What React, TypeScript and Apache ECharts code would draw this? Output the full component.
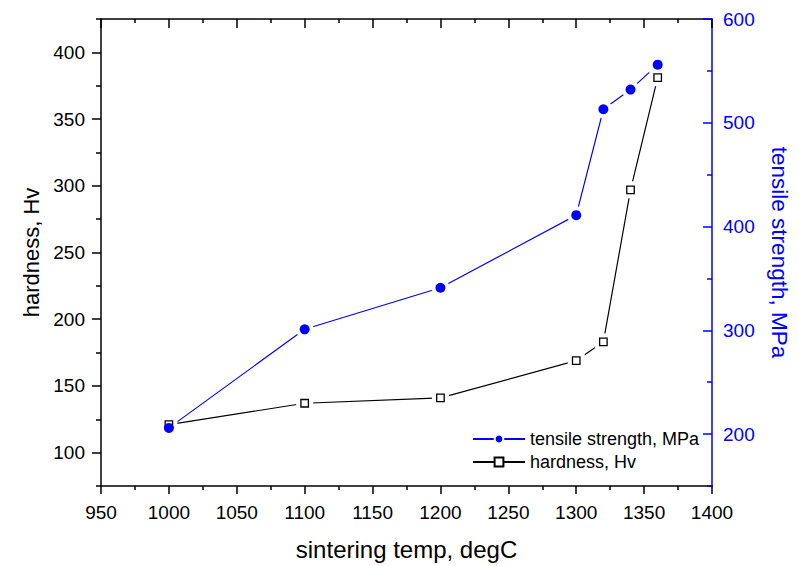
import React, { useEffect, useRef } from "react";
import * as echarts from "echarts";

const temps = [1000, 1100, 1200, 1300, 1320, 1340, 1360];
const hardness = [121, 137, 141, 169, 183, 297, 381];
const tensile = [206, 301, 341, 411, 513, 532, 556];

const xTicks = [950, 1000, 1050, 1100, 1150, 1200, 1250, 1300, 1350, 1400];
const leftMajor = [100, 150, 200, 250, 300, 350, 400];
const leftMinor = [75, 125, 175, 225, 275, 325, 375, 425];
const rightMajor = [200, 300, 400, 500, 600];
const rightMinor = [150, 250, 350, 450, 550];

const FONT = "'Liberation Sans', Arial, sans-serif";
const BLUE = "#0000ff";

export default function App() {
  const ref = useRef<HTMLDivElement>(null);
  useEffect(() => {
    document.body.style.margin = "0";
    const chart = echarts.init(ref.current!, null, { renderer: "svg" });
    const hData = temps.map((t, i) => [t, hardness[i]]);
    const tData = temps.map((t, i) => [t, tensile[i]]);
    const tickStyle = (c: string) => ({ color: c, width: 1.5 });
    const plain = (v: number) => String(v);
    chart.setOption({
      animation: false,
      backgroundColor: "#fff",
      grid: { left: 101, right: 77, top: 19, bottom: 73 },
      legend: {
        orient: "vertical",
        left: 472,
        top: 430,
        padding: 0,
        itemWidth: 52,
        itemHeight: 11,
        itemGap: 5,
        data: ["tensile strength, MPa", "hardness, Hv"],
        textStyle: { fontSize: 18, color: "#000", fontFamily: FONT },
      },
      xAxis: [
        {
          type: "value",
          position: "bottom",
          min: xTicks[0],
          max: xTicks[xTicks.length - 1],
          interval: 50,
          name: "sintering temp, degC",
          nameLocation: "middle",
          nameGap: 51,
          nameTextStyle: { fontSize: 24, color: "#000", fontFamily: FONT },
          axisLine: { lineStyle: tickStyle("#000") },
          axisTick: { inside: false, length: 8, lineStyle: tickStyle("#000") },
          minorTick: { show: true, splitNumber: 2, length: 4, lineStyle: tickStyle("#000") },
          splitLine: { show: false },
          axisLabel: { fontSize: 19, color: "#000", margin: 17, fontFamily: FONT, formatter: plain },
        },
        {
          type: "value",
          position: "top",
          min: xTicks[0],
          max: xTicks[xTicks.length - 1],
          interval: 50,
          axisLine: { lineStyle: tickStyle("#000") },
          axisTick: { inside: true, length: 9, lineStyle: tickStyle("#000") },
          minorTick: { show: true, splitNumber: 2, length: 4, lineStyle: tickStyle("#000") },
          splitLine: { show: false },
          axisLabel: { show: false },
        },
      ],
      yAxis: [
        {
          type: "value",
          position: "left",
          min: 75,
          max: 425,
          name: "hardness, Hv",
          nameLocation: "middle",
          nameGap: 59,
          nameTextStyle: { fontSize: 22, color: "#000", fontFamily: FONT },
          axisLine: { show: true, lineStyle: tickStyle("#000") },
          axisTick: { show: true, inside: false, length: 9, customValues: leftMajor, lineStyle: tickStyle("#000") },
          axisLabel: { fontSize: 19, color: "#000", margin: 16, customValues: leftMajor, fontFamily: FONT, formatter: plain },
          splitLine: { show: false },
        },
        {
          type: "value",
          position: "right",
          min: 150,
          max: 600,
          name: "tensile strength, MPa",
          nameLocation: "middle",
          nameRotate: -90,
          nameGap: 56,
          nameTextStyle: { fontSize: 22.5, color: BLUE, fontFamily: FONT },
          axisLine: { show: true, lineStyle: tickStyle(BLUE) },
          axisTick: { show: true, inside: true, length: 9, customValues: rightMajor, lineStyle: tickStyle(BLUE) },
          axisLabel: { fontSize: 19, color: BLUE, margin: 11, customValues: rightMajor, fontFamily: FONT, formatter: plain },
          splitLine: { show: false },
        },
        {
          type: "value",
          position: "right",
          min: 150,
          max: 600,
          axisLine: { show: false },
          axisTick: { show: true, inside: true, length: 5, customValues: rightMinor, lineStyle: tickStyle(BLUE) },
          axisLabel: { show: false },
          splitLine: { show: false },
        },
        {
          type: "value",
          position: "left",
          min: 75,
          max: 425,
          axisLine: { show: false },
          axisTick: { show: true, inside: false, length: 5, customValues: leftMinor, lineStyle: tickStyle("#000") },
          axisLabel: { show: false },
          splitLine: { show: false },
        },
      ],
      series: [
        {
          name: "tensile strength, MPa",
          type: "line",
          yAxisIndex: 1,
          data: tData,
          showSymbol: false,
          symbol: "circle",
          z: 1,
          lineStyle: { color: BLUE, width: 1.2 },
          itemStyle: { color: BLUE, borderColor: "#fff", borderWidth: 2.5 },
        },
        {
          name: "hardness, Hv",
          type: "line",
          yAxisIndex: 0,
          data: hData,
          showSymbol: false,
          symbol: "rect",
          z: 1,
          lineStyle: { color: "#000", width: 1.2 },
          itemStyle: { color: "#fff", borderColor: "#000", borderWidth: 1.2 },
        },
        {
          name: "tHalo",
          type: "scatter",
          yAxisIndex: 1,
          data: tData,
          symbol: "circle",
          symbolSize: 18,
          z: 2,
          silent: true,
          itemStyle: { color: "#fff", opacity: 1 },
        },
        {
          name: "hHalo",
          type: "scatter",
          yAxisIndex: 0,
          data: hData,
          symbol: "rect",
          symbolSize: 17,
          z: 3,
          silent: true,
          itemStyle: { color: "#fff", opacity: 1 },
        },
        {
          name: "hMark",
          type: "scatter",
          yAxisIndex: 0,
          data: hData,
          symbol: "rect",
          symbolSize: 7.5,
          z: 4,
          silent: true,
          itemStyle: { color: "#fff", borderColor: "#000", borderWidth: 1.3, opacity: 1 },
        },
        {
          name: "tMark",
          type: "scatter",
          yAxisIndex: 1,
          data: tData,
          symbol: "circle",
          symbolSize: 10,
          z: 5,
          silent: true,
          itemStyle: { color: BLUE, opacity: 1 },
        },
      ],
    });
    return () => chart.dispose();
  }, []);
  return <div ref={ref} style={{ width: 799, height: 566 }} />;
}
